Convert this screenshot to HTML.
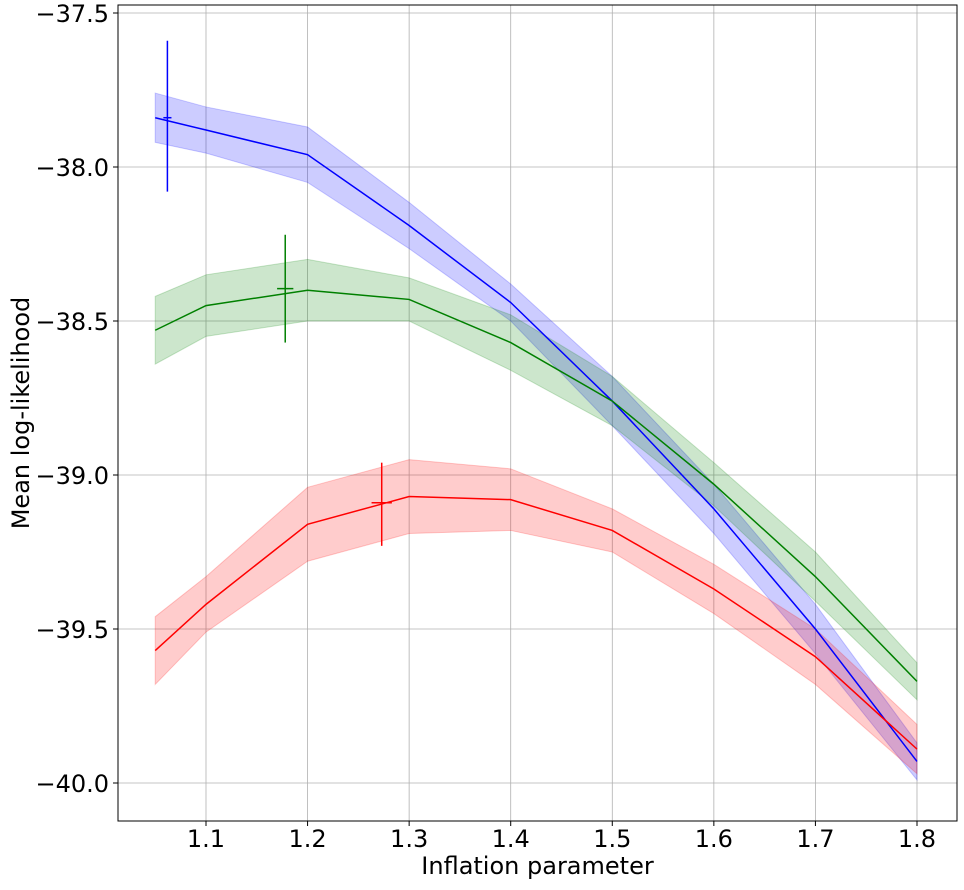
<!DOCTYPE html>
<html><head><meta charset="utf-8"><style>
body{margin:0;background:#fff;font-family:"DejaVu Sans","Liberation Sans",sans-serif}
svg text{font-family:"DejaVu Sans","Liberation Sans",sans-serif}
</style></head><body>
<svg id="chart" width="964" height="886" xmlns="http://www.w3.org/2000/svg"></svg>
<script>
const xs=[1.05,1.1,1.2,1.3,1.4,1.5,1.6,1.7,1.8];
const blueMean=[-37.84,-37.88,-37.96,-38.19,-38.44,-38.76,-39.11,-39.50,-39.93];
const blueErr=[0.08,0.075,0.09,0.075,0.06,0.08,0.08,0.08,0.06];
const greenMean=[-38.53,-38.45,-38.40,-38.43,-38.57,-38.76,-39.03,-39.33,-39.67];
const greenErr=[0.11,0.10,0.10,0.07,0.09,0.08,0.07,0.08,0.06];
const redMean=[-39.57,-39.42,-39.16,-39.07,-39.08,-39.18,-39.37,-39.59,-39.89];
const redErr=[0.11,0.09,0.12,0.12,0.10,0.07,0.08,0.09,0.08];
const crossX=[1.062,1.178,1.273];
const crossY=[-37.84,-38.395,-39.09];
const crossTop=[-37.59,-38.22,-38.96];
const crossBot=[-38.08,-38.57,-39.23];
const crossHW=[0.004,0.008,0.01];
const xTicks=[1.1,1.2,1.3,1.4,1.5,1.6,1.7,1.8];
const xTickLabels=["1.1","1.2","1.3","1.4","1.5","1.6","1.7","1.8"];
const yTicks=[-37.5,-38.0,-38.5,-39.0,-39.5,-40.0];
const yTickLabels=["\u221237.5","\u221238.0","\u221238.5","\u221239.0","\u221239.5","\u221240.0"];

const L=118,R=957,T=5,B=821;
const X=v=>206+(v-1.1)*1015.7;
const Y=v=>13+(-37.5-v)*308;
const svg=document.getElementById('chart');
const NS='http://www.w3.org/2000/svg';
function mk(tag,attrs,txt){const e=document.createElementNS(NS,tag);for(const k in attrs)e.setAttribute(k,attrs[k]);if(txt!==undefined)e.textContent=txt;svg.appendChild(e);return e;}

xTicks.forEach((t,i)=>{
 const g=mk('line',{x1:X(t),x2:X(t),y1:T,y2:B,stroke:'#b0b0b0','stroke-width':0.8});
 
 
 const tk=mk('line',{x1:X(t),x2:X(t),y1:B,y2:B+5,stroke:'#000','stroke-width':1});
 
 
 const lb=mk('text',{x:X(t),y:B+26,'text-anchor':'middle','font-size':24},xTickLabels[i]);
 
 
});
yTicks.forEach((t,i)=>{
 const g=mk('line',{x1:L,x2:R,y1:Y(t),y2:Y(t),stroke:'#b0b0b0','stroke-width':0.8});
 
 
 const tk=mk('line',{x1:L-5,x2:L,y1:Y(t),y2:Y(t),stroke:'#000','stroke-width':1});
 
 
 const lb=mk('text',{x:L-9,y:Y(t)+9,'text-anchor':'end','font-size':24},yTickLabels[i]);
 
 
});

const series=[['blue',blueMean,blueErr],['green',greenMean,greenErr],['red',redMean,redErr]];
series.forEach(([c,m,e])=>{
 const up=xs.map((x,i)=>X(x)+','+Y(m[i]+e[i]));
 const lo=xs.map((x,i)=>X(x)+','+Y(m[i]-e[i])).reverse();
 const band=mk('polygon',{points:up.concat(lo).join(' '),fill:c,'fill-opacity':0.2,stroke:c,'stroke-opacity':0.2});
 
 
});
series.forEach(([c,m])=>{
 const ln=mk('polyline',{points:xs.map((x,i)=>X(x)+','+Y(m[i])).join(' '),fill:'none',stroke:c,'stroke-width':1.5});
 
 
});
['blue','green','red'].forEach((c,i)=>{
 const v=mk('line',{x1:X(crossX[i]),x2:X(crossX[i]),y1:Y(crossTop[i]),y2:Y(crossBot[i]),stroke:c,'stroke-width':1.5});
 
 
 const h=mk('line',{x1:X(crossX[i]-crossHW[i]),x2:X(crossX[i]+crossHW[i]),y1:Y(crossY[i]),y2:Y(crossY[i]),stroke:c,'stroke-width':1.5});
 
 
});
const fr=mk('rect',{x:L,y:T,width:R-L,height:B-T,fill:'none',stroke:'#000','stroke-width':1});


const xl=mk('text',{x:(L+R)/2,y:874,'text-anchor':'middle','font-size':24},'Inflation parameter');


const yl=mk('text',{x:0,y:0,'text-anchor':'middle','font-size':24,transform:'translate(29,413) rotate(-90)'},'Mean log-likelihood');


</script>
</body></html>
